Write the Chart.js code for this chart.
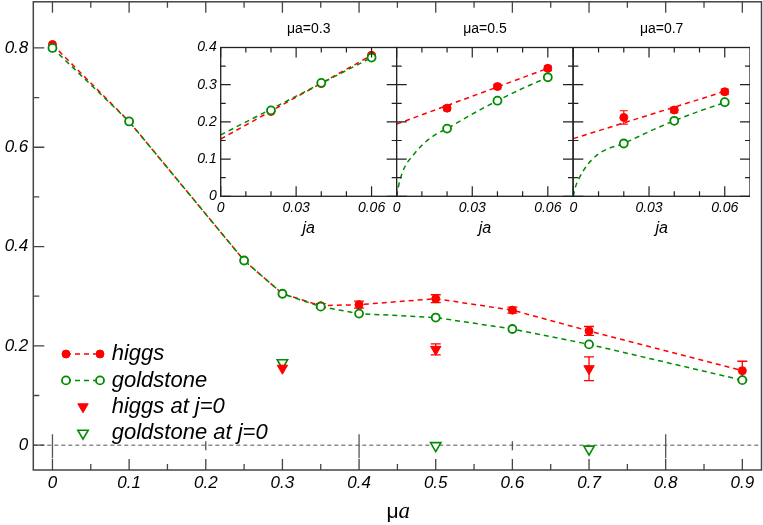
<!DOCTYPE html>
<html>
<head>
<meta charset="utf-8">
<script src="https://cdn.jsdelivr.net/npm/chart.js@4.4.1/dist/chart.umd.min.js"></script>
<style>
  body { margin: 0; background: #fff; }
  #wrap { position: relative; width: 763px; height: 525px; overflow: hidden; }
  canvas { position: absolute; top: 0; }
</style>
</head>
<body>
<div id="wrap">
  <canvas id="main" width="763" height="525" style="left:0"></canvas>
  <canvas id="inset0" width="207" height="250" style="left:190px"></canvas>
  <canvas id="inset1" width="207" height="250" style="left:366px"></canvas>
  <canvas id="inset2" width="207" height="250" style="left:543px"></canvas>
</div>
<script>
// main panel: masses against mu*a
const mu = [0, 0.1, 0.25, 0.3, 0.35, 0.4, 0.5, 0.6, 0.7, 0.9];
const higgs = [0.807, 0.652, 0.372, 0.305, 0.281, 0.283, 0.295, 0.272, 0.230, 0.150];
const higgsErr = [0, 0, 0, 0, 0.004, 0.007, 0.008, 0.006, 0.009, 0.019];
const goldstone = [0.800, 0.652, 0.372, 0.305, 0.279, 0.265, 0.257, 0.234, 0.203, 0.131];
const muJ0 = [0.3, 0.5, 0.7];
const higgsJ0 = [0.155, 0.193, 0.154];
const higgsJ0Err = [0, 0.011, 0.024];
const goldstoneJ0 = [0.166, -0.001, -0.008];

const mainXTicks = [0, 0.1, 0.2, 0.3, 0.4, 0.5, 0.6, 0.7, 0.8, 0.9];
const mainXMinor = [0.05, 0.15, 0.25, 0.35, 0.45, 0.55, 0.65, 0.75, 0.85];
const mainYTicks = [0, 0.2, 0.4, 0.6, 0.8];
const mainYMinor = [0.1, 0.3, 0.5, 0.7];
const zeroLongTicks = [0, 0.4, 0.8];
const zeroShortTicks = [0.2, 0.6];

// insets: extrapolation in ja at fixed mu*a
const insetMu = ['0.3', '0.5', '0.7'];
const ja = [0.02, 0.04, 0.06];
const insetHiggs = [[0.228, 0.303, 0.379], [0.237, 0.295, 0.344], [0.212, 0.232, 0.281]];
const insetHiggsErr = [[0, 0, 0.004], [0.007, 0.006, 0.006], [0.018, 0.007, 0.007]];
const insetGold = [[0.231, 0.305, 0.373], [0.182, 0.257, 0.320], [0.142, 0.203, 0.253]];
const higgsFitJa = [0, 0.06];
const higgsFit = [[0.154, 0.379], [0.194, 0.344], [0.155, 0.282]];
const goldFitJa = [
  [0, 0.06],
  [0, 0.0007, 0.0013, 0.0033, 0.0066, 0.0106, 0.0152, 0.02, 0.03, 0.04, 0.05, 0.06],
  [0, 0.0009, 0.002, 0.004, 0.0073, 0.0119, 0.02, 0.03, 0.04, 0.05, 0.06]
];
const goldFit = [
  [0.165, 0.373],
  [0, 0.026, 0.044, 0.080, 0.111, 0.141, 0.165, 0.182, 0.221, 0.257, 0.290, 0.320],
  [0, 0.026, 0.044, 0.069, 0.098, 0.122, 0.142, 0.174, 0.203, 0.229, 0.252]
];
const insetXTicks = [0, 0.03, 0.06];
const insetXMinor = [0.01, 0.02, 0.04, 0.05];
const insetYTicks = [0, 0.1, 0.2, 0.3, 0.4];
const insetYMinor = [0.05, 0.15, 0.25, 0.35];

const RED = '#ff0000';
const GREEN = '#008b00';
const SANS = "'Liberation Sans', Arial, sans-serif";

const pairs = (xs, ys) => xs.map((x, i) => ({ x: x, y: ys[i] }));

function marker(ctx, style, r, x, y) {
  ctx.beginPath();
  if (style === 'triangle') {
    ctx.moveTo(x, y + r);
    ctx.lineTo(x - r * 0.866, y - r / 2);
    ctx.lineTo(x + r * 0.866, y - r / 2);
    ctx.closePath();
  } else {
    ctx.arc(x, y, r, 0, Math.PI * 2);
  }
}

// keep the plot box exactly where it is put
function noPad(s) {
  s.paddingTop = 0; s.paddingBottom = 0; s.paddingLeft = 0; s.paddingRight = 0;
}

const errorBars = {
  id: 'errorBars',
  beforeDatasetDraw(chart, args, opts) {
    const ds = chart.data.datasets[args.index];
    if (!ds.errors) return;
    const ctx = chart.ctx, sx = chart.scales.x, sy = chart.scales.y;
    ctx.save();
    ctx.strokeStyle = ds.pointBorderColor;
    ctx.lineWidth = opts.width;
    ctx.beginPath();
    ds.data.forEach((p, k) => {
      const e = ds.errors[k];
      if (!e) return;
      const px = sx.getPixelForValue(p.x);
      const y1 = sy.getPixelForValue(p.y - e), y2 = sy.getPixelForValue(p.y + e);
      ctx.moveTo(px, y1); ctx.lineTo(px, y2);
      ctx.moveTo(px - opts.cap, y1); ctx.lineTo(px + opts.cap, y1);
      ctx.moveTo(px - opts.cap, y2); ctx.lineTo(px + opts.cap, y2);
    });
    ctx.stroke();
    ctx.restore();
  }
};

const frame = {
  id: 'frame',
  afterDatasetsDraw(chart, args, o) {
    const ctx = chart.ctx, a = chart.chartArea, sx = chart.scales.x, sy = chart.scales.y;
    ctx.save();
    ctx.strokeStyle = o.color;
    ctx.lineWidth = o.tickWidth;
    ctx.beginPath();
    const xt = (vals, len) => vals.forEach(v => {
      const px = sx.getPixelForValue(v);
      ctx.moveTo(px, a.bottom); ctx.lineTo(px, a.bottom - len);
      ctx.moveTo(px, a.top); ctx.lineTo(px, a.top + len);
    });
    const yt = (vals, len) => vals.forEach(v => {
      const py = sy.getPixelForValue(v);
      ctx.moveTo(a.left, py); ctx.lineTo(a.left + len, py);
      if (o.right) { ctx.moveTo(a.right, py); ctx.lineTo(a.right - len, py); }
    });
    xt(o.xMajor, o.major); xt(o.xMinor, o.minor);
    yt(o.yMajor, o.major); yt(o.yMinor, o.minor);
    ctx.stroke();
    ctx.lineWidth = o.width;
    ctx.strokeRect(a.left, a.top, a.right - a.left, a.bottom - a.top);
    ctx.restore();
  }
};

const texts = {
  id: 'texts',
  afterDraw(chart, args, o) {
    const ctx = chart.ctx;
    ctx.save();
    o.items.forEach(t => {
      ctx.font = t.font;
      ctx.fillStyle = '#000';
      ctx.textAlign = t.align || 'center';
      ctx.textBaseline = t.baseline || 'middle';
      ctx.fillText(t.text, t.x, t.y);
    });
    ctx.restore();
  }
};

const zeroLine = {
  id: 'zeroLine',
  beforeDatasetsDraw(chart) {
    const ctx = chart.ctx, a = chart.chartArea, sx = chart.scales.x;
    const py = chart.scales.y.getPixelForValue(0);
    ctx.save();
    ctx.strokeStyle = '#555';
    ctx.lineWidth = 1;
    ctx.setLineDash([4, 3]);
    ctx.beginPath();
    ctx.moveTo(a.left, py); ctx.lineTo(a.right, py);
    ctx.stroke();
    ctx.setLineDash([]);
    ctx.lineWidth = 1.3;
    ctx.beginPath();
    zeroLongTicks.forEach(v => {
      const px = sx.getPixelForValue(v);
      ctx.moveTo(px, py - 11); ctx.lineTo(px, py + 13);
    });
    zeroShortTicks.forEach(v => {
      const px = sx.getPixelForValue(v);
      ctx.moveTo(px, py - 4); ctx.lineTo(px, py + 5);
    });
    ctx.stroke();
    ctx.restore();
  }
};

const legendBox = {
  id: 'legendBox',
  afterDraw(chart, args, o) {
    const ctx = chart.ctx;
    ctx.save();
    chart.data.datasets.forEach((ds, i) => {
      const y = o.y + i * o.step;
      ctx.fillStyle = ds.pointBackgroundColor;
      ctx.strokeStyle = ds.pointBorderColor;
      ctx.lineWidth = ds.pointBorderWidth;
      const r = ds.pointRadius * o.scale;
      const spots = ds.showLine === false ? [(o.x1 + o.x2) / 2] : [o.x1, o.x2];
      if (ds.showLine !== false) {
        ctx.save();
        ctx.strokeStyle = ds.borderColor;
        ctx.lineWidth = ds.borderWidth;
        ctx.setLineDash(ds.borderDash);
        ctx.beginPath();
        ctx.moveTo(o.x1, y); ctx.lineTo(o.x2, y);
        ctx.stroke();
        ctx.restore();
      }
      spots.forEach(x => {
        marker(ctx, ds.pointStyle, r, x, y);
        ctx.fill();
        ctx.stroke();
      });
      ctx.fillStyle = '#000';
      ctx.font = o.font;
      ctx.textAlign = 'left';
      ctx.textBaseline = 'middle';
      ctx.fillText(ds.label, o.textX, y);
    });
    ctx.restore();
  }
};

const tickFont = { family: SANS, size: 17, style: 'italic' };

new Chart(document.getElementById('main'), {
  type: 'line',
  data: {
    datasets: [
      {
        label: 'higgs', data: pairs(mu, higgs), errors: higgsErr, order: 1,
        borderColor: RED, borderWidth: 1.5, borderDash: [5, 4],
        pointStyle: 'circle', pointRadius: 4, pointBorderWidth: 1,
        pointBackgroundColor: RED, pointBorderColor: RED
      },
      {
        label: 'goldstone', data: pairs(mu, goldstone), order: 0,
        borderColor: GREEN, borderWidth: 1.5, borderDash: [5, 4],
        pointStyle: 'circle', pointRadius: 4, pointBorderWidth: 1.8,
        pointBackgroundColor: '#fff', pointBorderColor: GREEN
      },
      {
        label: 'higgs at j=0', data: pairs(muJ0, higgsJ0), errors: higgsJ0Err, order: 2,
        showLine: false, pointStyle: 'triangle', pointRotation: 180,
        pointRadius: 6, pointBorderWidth: 1,
        pointBackgroundColor: RED, pointBorderColor: RED
      },
      {
        label: 'goldstone at j=0', data: pairs(muJ0, goldstoneJ0), order: 3,
        showLine: false, pointStyle: 'triangle', pointRotation: 180,
        pointRadius: 6, pointBorderWidth: 1.6,
        pointBackgroundColor: '#fff', pointBorderColor: GREEN
      }
    ]
  },
  options: {
    responsive: false,
    animation: false,
    events: [],
    layout: { autoPadding: false, padding: { left: 0, top: 1.8, right: 1.5, bottom: 0 } },
    scales: {
      x: {
        type: 'linear', min: -0.025, max: 0.925,
        afterBuildTicks: s => { s.ticks = mainXTicks.map(v => ({ value: v })); },
        afterFit: s => { s.height = 55; noPad(s); },
        grid: { display: false, drawTicks: false }, border: { display: false },
        ticks: { font: tickFont, color: '#000', padding: 3, maxRotation: 0, callback: v => String(v) }
      },
      y: {
        type: 'linear', min: -0.05, max: 0.893,
        afterBuildTicks: s => { s.ticks = mainYTicks.map(v => ({ value: v })); },
        afterFit: s => { s.width = 33.3; noPad(s); },
        grid: { display: false, drawTicks: false }, border: { display: false },
        ticks: { font: tickFont, color: '#000', padding: 5, callback: v => String(v) }
      }
    },
    plugins: {
      legend: { display: false },
      tooltip: { enabled: false },
      errorBars: { width: 1.3, cap: 5 },
      frame: {
        color: '#444', width: 1.5, tickWidth: 1.3, major: 11, minor: 6, right: false,
        xMajor: mainXTicks, xMinor: mainXMinor, yMajor: mainYTicks, yMinor: mainYMinor
      },
      legendBox: {
        x1: 66, x2: 100, y: 354, step: 26.4, textX: 111.7, scale: 1,
        font: 'italic 22px ' + SANS
      },
      texts: {
        items: [
          { text: 'μ', x: 398.5, y: 517.5, align: 'right', baseline: 'alphabetic', font: '21px ' + SANS },
          { text: 'a', x: 398.5, y: 517.5, align: 'left', baseline: 'alphabetic', font: "italic 23px 'Liberation Serif', serif" }
        ]
      }
    }
  },
  plugins: [zeroLine, errorBars, frame, legendBox, texts]
});

// inset panel edges on the page
const panelLeft = [220.7, 396.7, 573.3];
const panelRight = [396.7, 573.3, 750];
const canvasLeft = [190, 366, 543];

insetMu.forEach((m, i) => {
  const cl = canvasLeft[i];
  const yWidth = panelLeft[i] - cl;
  const width = document.getElementById('inset' + i).width;
  const centre = (panelLeft[i] + panelRight[i]) / 2 - cl;
  new Chart(document.getElementById('inset' + i), {
    type: 'line',
    data: {
      datasets: [
        {
          data: pairs(ja, insetGold[i]), order: 0, showLine: false,
          pointStyle: 'circle', pointRadius: 4, pointBorderWidth: 1.8,
          pointBackgroundColor: '#fff', pointBorderColor: GREEN
        },
        {
          data: pairs(ja, insetHiggs[i]), errors: insetHiggsErr[i], order: 1, showLine: false,
          pointStyle: 'circle', pointRadius: 4, pointBorderWidth: 1,
          pointBackgroundColor: RED, pointBorderColor: RED
        },
        {
          data: pairs(goldFitJa[i], goldFit[i]), order: 2, pointRadius: 0,
          borderColor: GREEN, borderWidth: 1.5, borderDash: [5, 4],
          cubicInterpolationMode: 'monotone'
        },
        {
          data: pairs(higgsFitJa, higgsFit[i]), order: 3, pointRadius: 0,
          borderColor: RED, borderWidth: 1.5, borderDash: [5, 4]
        }
      ]
    },
    options: {
      responsive: false,
      animation: false,
      events: [],
      layout: { autoPadding: false, padding: { left: 0, top: 47.5, right: width - (panelRight[i] - cl), bottom: 0 } },
      scales: {
        x: {
          type: 'linear', min: 0, max: 0.07,
          afterBuildTicks: s => { s.ticks = insetXTicks.map(v => ({ value: v })); },
          afterFit: s => { s.height = 250 - 196.3; noPad(s); },
          grid: { display: false, drawTicks: false }, border: { display: false },
          ticks: { font: { family: SANS, size: 14, style: 'italic' }, color: '#000', padding: 3, maxRotation: 0, callback: v => String(v) }
        },
        y: {
          type: 'linear', min: 0, max: 0.4,
          afterBuildTicks: s => { s.ticks = insetYTicks.map(v => ({ value: v })); },
          afterFit: s => { s.width = yWidth; noPad(s); },
          grid: { display: false, drawTicks: false }, border: { display: false },
          ticks: { display: i === 0, font: { family: SANS, size: 14, style: 'italic' }, color: '#000', padding: 4, callback: v => String(v) }
        }
      },
      plugins: {
        legend: { display: false },
        tooltip: { enabled: false },
        errorBars: { width: 1.2, cap: 4 },
        frame: {
          color: '#222', width: 1.3, tickWidth: 1.2, major: 10, minor: 5, right: true,
          xMajor: insetXTicks, xMinor: insetXMinor, yMajor: insetYTicks, yMinor: insetYMinor
        },
        texts: {
          items: [
            { text: 'μa=' + m, x: centre, y: 29.5, font: '14px ' + SANS },
            { text: 'ja', x: centre, y: 228.3, font: 'italic 16px ' + SANS }
          ]
        }
      }
    },
    plugins: [errorBars, frame, texts]
  });
});
</script>
</body>
</html>
